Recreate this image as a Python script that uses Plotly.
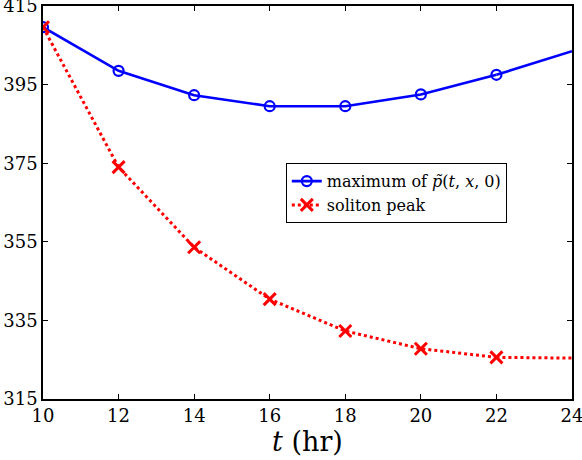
import plotly.graph_objects as go

t_hours = [10, 12, 14, 16, 18, 20, 22, 24]
max_p = [409.6, 398.5, 392.3, 389.5, 389.5, 392.5, 397.5, 403.5]
soliton_peak = [409.6, 374.0, 353.6, 340.4, 332.3, 327.8, 325.6, 325.4]
x_ticks = [10, 12, 14, 16, 18, 20, 22, 24]
y_ticks = [315, 335, 355, 375, 395, 415]

BLUE = "#0000ff"
RED = "#ff0000"
FONT = "DejaVu Serif"

fig = go.Figure()

fig.add_trace(go.Scatter(
    x=t_hours[:-1], y=max_p[:-1], mode="lines+markers",
    name="maximum of <i>p̃</i>(<i>t</i>, <i>x</i>, 0)",
    line=dict(color=BLUE, width=2.6),
    marker=dict(symbol="circle-open", size=10, color=BLUE, line=dict(width=2.2, color=BLUE)),
))
fig.add_trace(go.Scatter(
    x=t_hours[-2:], y=max_p[-2:], mode="lines", showlegend=False,
    line=dict(color=BLUE, width=2.6), hoverinfo="skip",
))
fig.add_trace(go.Scatter(
    x=t_hours[:-1], y=soliton_peak[:-1], mode="lines+markers",
    name="soliton peak",
    line=dict(color=RED, width=3, dash="dot"),
    marker=dict(symbol="x-thin-open", size=12, color=RED, line=dict(width=3, color=RED)),
))
fig.add_trace(go.Scatter(
    x=t_hours[-2:], y=soliton_peak[-2:], mode="lines", showlegend=False,
    line=dict(color=RED, width=3, dash="dot"), hoverinfo="skip",
))

axis_common = dict(
    showgrid=False, zeroline=False, showline=True, linecolor="black", linewidth=1.5,
    mirror="ticks", ticks="inside", ticklen=5, tickcolor="black", tickwidth=1,
    tickfont=dict(family=FONT, size=18, color="black"),
    automargin=False, ticklabeloverflow="allow",
)

fig.update_layout(
    width=582, height=460,
    margin=dict(l=43, r=10, t=6, b=61, autoexpand=False),
    paper_bgcolor="white", plot_bgcolor="white",
    font=dict(family=FONT, color="black"),
    xaxis=dict(range=[10, 24], tickvals=x_ticks, ticklabelstandoff=0,
               title=dict(text="<i>t</i> (hr)", font=dict(family=FONT, size=27), standoff=0),
               **axis_common),
    yaxis=dict(range=[315, 415], tickvals=y_ticks, ticklabelstandoff=0, **axis_common),
    legend=dict(x=0.459, y=0.6, xanchor="left", yanchor="top",
                bgcolor="white", bordercolor="black", borderwidth=1,
                font=dict(family=FONT, size=16), tracegroupgap=0, itemwidth=30),
    showlegend=True,
)

fig.write_html("out.html", config={"displayModeBar": False},
               post_script="document.body.style.margin='0';document.body.style.padding='0';")
